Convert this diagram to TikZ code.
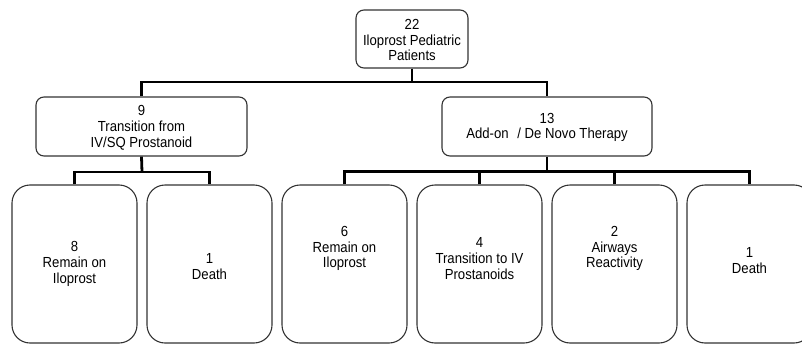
\documentclass[tikz,border=0pt]{standalone}
\usepackage{fontspec}
\setmainfont[FakeStretch=0.9]{Liberation Sans}
\begin{document}
\begin{tikzpicture}[x=1pt,y=-1pt,
  box/.style={draw=black!80,line width=1.1pt,rounded corners=8pt,inner sep=0pt},
  tallbox/.style={box,rounded corners=18pt,minimum width=125pt,minimum height=158pt},
  txt/.style={align=center,inner sep=0pt,font=\fontsize{14.6}{15.8}\selectfont},
  conn/.style={draw=black,line width=2.8pt}]
\clip (0,0) rectangle (802,345);
\useasboundingbox (0,0) rectangle (802,345);
% boxes
\node[box,minimum width=112pt,minimum height=58pt] (top) at (412,39) {};
\node[box,minimum width=211pt,minimum height=59pt] (ml) at (141.5,126.5) {};
\node[box,minimum width=210pt,minimum height=59pt] (mr) at (547,126.5) {};
\node[tallbox] (b1) at (74.5,264) {};
\node[tallbox] (b2) at (209.5,264) {};
\node[tallbox] (b3) at (344.5,264) {};
\node[tallbox] (b4) at (479.5,264) {};
\node[tallbox] (b5) at (614.5,264) {};
\node[tallbox] (b6) at (749.5,264) {};
% texts
\node[txt] (ttop) at (412,40) {22\\Iloprost Pediatric\\Patients};
\node[txt] (tml) at (141.5,127.5) {9\\Transition from\\IV/SQ Prostanoid};
\node[txt] (tmr) at (547,127.5) {13\\Add-on\hspace{0.35em} / De Novo Therapy};
\node[txt] (tb1) at (74.5,264) {8\\Remain on\\Iloprost};
\node[txt] (tb2) at (209.5,266.5) {1\\Death};
\node[txt] (tb3) at (344.5,248.5) {6\\Remain on\\Iloprost};
\node[txt] (tb4) at (479.5,258.5) {4\\Transition to IV\\Prostanoids};
\node[txt] (tb5) at (614.5,248.5) {2\\Airways\\Reactivity};
\node[txt] (tb6) at (749.5,260.5) {1\\Death};
% connectors
\coordinate (j1) at (412,82);
\coordinate (j2) at (142,172);
\coordinate (j3) at (547,171.5);
\draw[conn] (top.south) -- (j1);
\draw[conn] (ml.north) -- (ml.north |- j1) -- (mr.north |- j1) -- (mr.north);
\draw[conn] (ml.south) -- (j2);
\draw[conn] (b1.north) -- (b1.north |- j2) -- (b2.north |- j2) -- (b2.north);
\draw[conn] (mr.south) -- (j3);
\draw[conn] (b3.north) -- (b3.north |- j3) -- (b6.north |- j3) -- (b6.north);
\draw[conn] (b4.north) -- (b4.north |- j3);
\draw[conn] (b5.north) -- (b5.north |- j3);
\end{tikzpicture}
\end{document}
